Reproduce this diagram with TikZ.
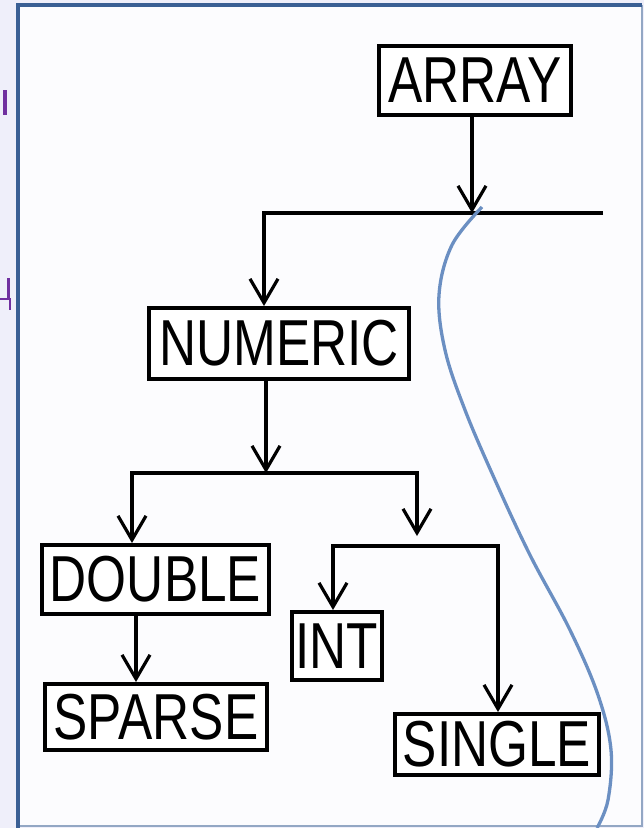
\documentclass[tikz,border=0pt]{standalone}
\usepackage{fontspec}
\setmainfont{Liberation Sans}
\usetikzlibrary{arrows.meta}
\definecolor{lav}{HTML}{EFEFFA}
\definecolor{paper}{HTML}{FCFCFE}
\definecolor{frameblue}{HTML}{3A5F94}
\definecolor{curveblue}{HTML}{6B8FC2}
\definecolor{purp}{HTML}{7030A0}
\newcommand\boxlabel[1]{\scalebox{0.79}[1]{\fontsize{65}{65}\selectfont #1}}
\begin{document}
\begin{tikzpicture}[x=1pt,y=-1pt,
  tbox/.style={draw, line width=4pt, inner sep=0pt, fill=white},
  conn/.style={line width=4pt, line join=miter},
  arr/.style={conn, -{Straight Barb[length=24pt,width=28pt,line width=3.2pt]}}]
\useasboundingbox (0,0) rectangle (644,828);
\fill[lav] (0,0) rectangle (644,828);
\fill[paper] (18,5) rectangle (642,826);
\draw[frameblue!55, line width=1.5pt] (642,5) -- (642,826) -- (18,826);
\draw[frameblue, line width=4pt] (18,828) -- (18,5) -- (642,5);
% cut-off purple letters at the left edge
\fill[purp] (3,90) rectangle (7,115);
\draw[purp, line width=2.5pt] (8.5,278) -- (8.5,299) (0,299) -- (11,299) (10,299) -- (10,310);
% boxes
\node[tbox, minimum width=192pt, minimum height=69pt] (array) at (475,80.5) {\boxlabel{ARRAY}};
\node[tbox, minimum width=260pt, minimum height=71pt] (numeric) at (279,343.5) {\boxlabel{NUMERIC}};
\node[tbox, minimum width=227pt, minimum height=69pt] (double) at (155.5,579.5) {\boxlabel{DOUBLE}};
\node[tbox, minimum width=222pt, minimum height=66pt] (sparse) at (156,717) {\boxlabel{SPARSE}};
\node[tbox, minimum width=90pt, minimum height=68pt] (int) at (337,646) {\boxlabel{INT}};
\node[tbox, minimum width=204pt, minimum height=61pt] (single) at (497,744.5) {\boxlabel{SINGLE}};
% junction points
\coordinate (j1) at (472,213);
\coordinate (h1L) at (264,213);
\coordinate (h1R) at (603,213);
\coordinate (j2) at (266,473);
\coordinate (h2L) at (132,473);
\coordinate (h2R) at (417,473);
\coordinate (j3) at (417,536);
\coordinate (h3L) at (333,546);
\coordinate (h3R) at (498,546);
\coordinate (dcol) at (136,0);
% connectors
\draw[arr] (array.south -| j1) -- (j1);
\draw[arr] (h1R) -- (h1L) -- (numeric.north -| h1L);
\draw[arr] (numeric.south -| j2) -- (j2);
\draw[arr] (h2R) -- (h2L) -- (double.north -| h2L);
\draw[arr] (h2L) -- (h2R) -- (j3);
\draw[arr] (h3R) -- (h3L) -- (int.north -| h3L);
\draw[arr] (h3L) -- (h3R) -- (single.north -| h3R);
\draw[arr] (double.south -| dcol) -- (sparse.north -| dcol);
% blue curve
\draw[curveblue, line width=3.3pt] plot[smooth, tension=0.6] coordinates {(482,207) (452,245) (439,295) (445,350) (465,410) (495,480) (530,555) (570,630) (598,695) (611,750) (608,800) (597,828)};
\end{tikzpicture}
\end{document}
